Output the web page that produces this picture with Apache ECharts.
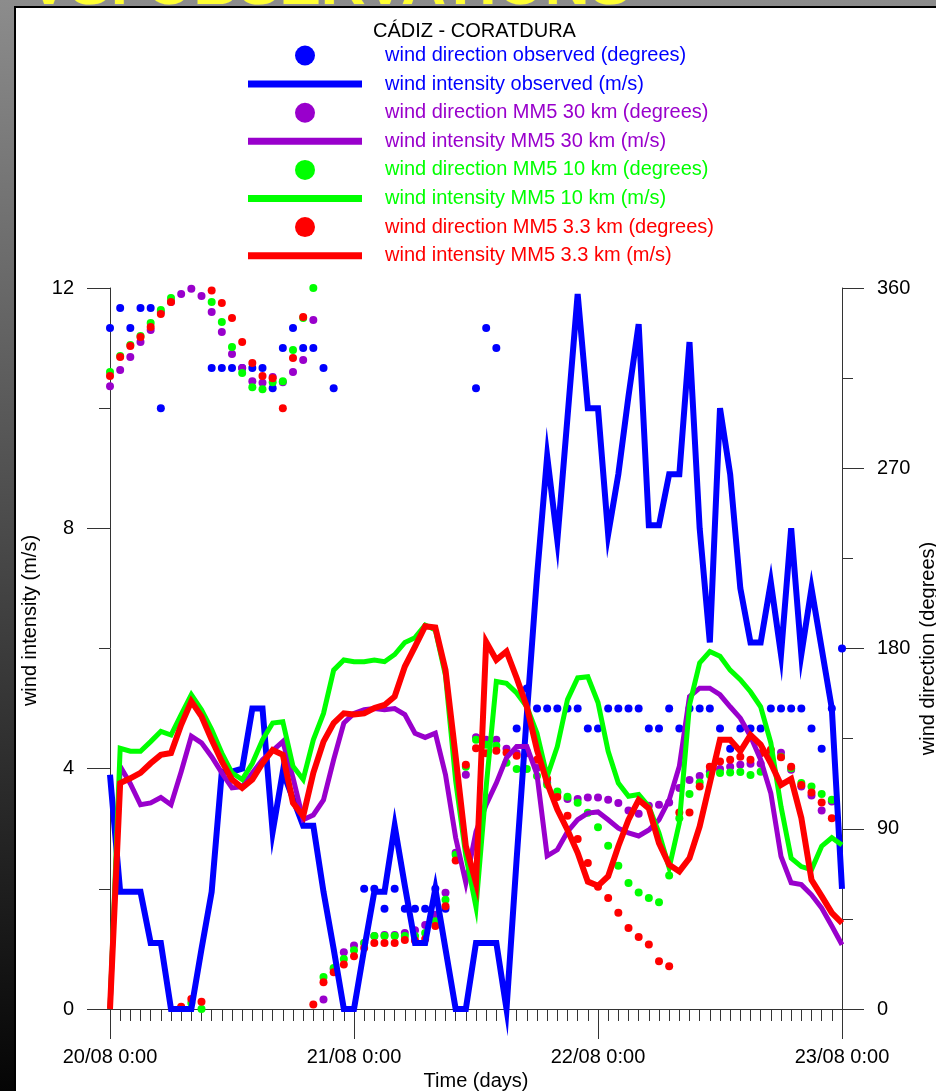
<!DOCTYPE html>
<html>
<head>
<meta charset="utf-8">
<script src="https://cdn.jsdelivr.net/npm/echarts@6/dist/echarts.min.js"></script>
<style>
  html, body { margin: 0; padding: 0; }
  #chart { width: 936px; height: 1091px; }
</style>
</head>
<body>
<div id="chart"></div>
<script>
// hourly values, index = hours since 20/08 0:00
var tickLabels = ['20/08 0:00', '21/08 0:00', '22/08 0:00', '23/08 0:00'];

var seriesNames = [
  'wind direction observed (degrees)',
  'wind intensity observed (m/s)',
  'wind direction MM5 30 km (degrees)',
  'wind intensity MM5 30 km (m/s)',
  'wind direction MM5 10 km (degrees)',
  'wind intensity MM5 10 km (m/s)',
  'wind direction MM5 3.3 km (degrees)',
  'wind intensity MM5 3.3 km (m/s)'
];
var colors = ['#0000ff', '#0000ff', '#9900cc', '#9900cc', '#00ff00', '#00ff00', '#ff0000', '#ff0000'];

// observed (m/s)
var obsSpeed = [3.9, 1.95, 1.95, 1.95, 1.1, 1.1, 0, 0, 0, 1.0, 1.95, 3.95, 3.95, 4.0, 5.0, 5.0, 2.95, 3.95, 3.5, 3.05,
  3.05, 1.95, 1.0, 0, 0, 1.0, 1.95, 1.95, 3.05, 2.05, 1.1, 1.1, 2.0, 1.0, 0, 0, 1.1, 1.1, 1.1, 0,
  2.5, 4.9, 7.2, 9.2, 7.8, 9.85, 11.9, 10.0, 10.0, 7.9, 8.9, 10.2, 11.4, 8.05, 8.05, 8.9, 8.9, 11.1, 8.0, 6.1,
  10.0, 8.9, 7.0, 6.1, 6.1, 7.1, 5.9, 8.0, 5.9, 7.0, 6.0, 5.0, 2.0];
// observed (degrees)
var obsDir = [340, 350, 340, 350, 350, 300, null, null, null, null, 320, 320, 320, 320, 320, 320, 310, 330, 340, 330,
  330, 320, 310, null, null, 60, 60, 50, 60, 50, 50, 50, 60, 50, null, null, 310, 340, 330, null,
  140, 160, 150, 150, 150, 150, 150, 140, 140, 150, 150, 150, 150, 140, 140, 150, 140, 150, 150, 150,
  140, 130, 140, 140, 140, 150, 150, 150, 150, 140, 130, 150, 180];

// MM5 30 km
var mm30Speed = [0, 4.04, 3.75, 3.4, 3.43, 3.52, 3.4, 3.95, 4.54, 4.43, 4.2, 3.93, 3.68, 3.7, 3.93, 4.15, 4.3, 4.45, 3.85, 3.15,
  3.23, 3.48, 4.15, 4.76, 4.92, 4.98, 5.0, 4.98, 5.0, 4.9, 4.59, 4.52, 4.59, 3.9, 2.85, 2.1, 2.95, 3.4, 3.76, 4.18,
  4.37, 4.37, 3.9, 2.55, 2.65, 2.95, 3.15, 3.26, 3.28, 3.15, 3.01, 2.93, 2.88, 2.98, 3.15, 3.48, 4.04, 5.2, 5.34, 5.34,
  5.23, 5.03, 4.84, 4.54, 4.15, 3.59, 2.54, 2.1, 2.07, 1.9, 1.68, 1.38, 1.07];
var mm30Dir = [311, 319, 325.5, 333, 339, 348, 353, 357, 359.6, 356, 348, 338, 327, 320, 313.5, 312.7, 315.5, 313, 318, 324,
  344, 4.7, 20, 28.3, 31.7, 33, 36.5, 37, 37, 38, 39.3, 42, 47, 58, 78, 117, 135.7, 134.4, 134.4, 130,
  127.7, 127.7, 120.3, 113, 108, 104.8, 104.8, 105.6, 105.6, 104.5, 102.8, 99.1, 97.5, 101.5, 102, 103.1, 110.3, 114.4, 116.4, 118.6,
  119.8, 121, 121.9, 122.4, 122.4, 126.9, 128, 119.4, 111.1, 106.6, 99.1, 103.6, null];

// MM5 10 km
var mm10Speed = [0, 4.34, 4.29, 4.29, 4.45, 4.62, 4.56, 4.9, 5.23, 4.98, 4.65, 4.26, 3.93, 3.82, 4.09, 4.48, 4.76, 4.78, 4.04, 3.82,
  4.48, 4.92, 5.64, 5.81, 5.78, 5.78, 5.81, 5.78, 5.9, 6.1, 6.18, 6.39, 6.31, 5.55, 3.8, 2.55, 1.7, 3.7, 5.45, 5.42,
  5.26, 5.03, 4.59, 3.87, 4.37, 5.15, 5.51, 5.53, 5.1, 4.29, 3.76, 3.54, 3.57, 3.37, 2.93, 2.35, 3.1, 5.06, 5.76, 5.95,
  5.87, 5.64, 5.48, 5.28, 5.03, 4.43, 3.37, 2.51, 2.37, 2.32, 2.71, 2.85, 2.73];
var mm10Dir = [318, 326, 331.5, 336, 342.5, 349, 355, 0.6, 3, 0, 353, 343, 330.5, 317.5, 310.5, 309.5, 313, 313.5, 329, 345,
  360, 16, 20.5, 25, 29.3, 33, 36.5, 36.5, 36.5, 36.5, 36.5, 38, 43.8, 54.6, 77, 121, 134.4, 131.9, 131.4, 123,
  119.8, 119.8, 116.4, 112, 108.6, 106, 103, 98, 90.8, 81.5, 71.5, 62.9, 58.2, 55.4, 53.3, 66.6, 95.3, 107.4, 113.1, 116.8,
  117.8, 118.1, 118.3, 116.8, 118.4, 126.9, 126, 120.2, 112.8, 111.1, 107.4, 104.5, null];

// MM5 3.3 km
var mm3Speed = [0, 3.76, 3.84, 3.93, 4.09, 4.23, 4.26, 4.73, 5.12, 4.87, 4.48, 4.12, 3.82, 3.68, 3.82, 4.09, 4.31, 4.23, 3.43, 3.21,
  3.93, 4.45, 4.76, 4.92, 4.9, 4.92, 5.01, 5.06, 5.2, 5.7, 6.03, 6.37, 6.35, 5.64, 4.2, 2.71, 2.1, 6.11, 5.81, 5.95,
  5.51, 5.03, 4.31, 3.76, 3.32, 2.98, 2.6, 2.12, 2.05, 2.21, 2.71, 3.15, 3.48, 3.34, 2.76, 2.4, 2.29, 2.51, 3.04, 3.76,
  4.48, 4.48, 4.29, 4.56, 4.4, 4.09, 3.73, 3.83, 3.18, 2.15, 1.88, 1.6, 1.43];
var mm3Dir = [316, 325.5, 331, 335.5, 340.5, 347, 353, 1.1, 5, 3.6, 358.7, 352.5, 345, 333, 322.5, 316, 315, 300, 325, 345.5,
  2.3, 13.4, 18.4, 22.2, 26.3, 30.5, 33, 33, 33, 34.5, 34.2, 35, 41.4, 51.3, 74.2, 122, 130.2, 127.7, 129, 128,
  126.4, 128.5, 124.4, 115, 105.8, 96.5, 84.9, 72.9, 61, 55.4, 48, 40.5, 36, 32.2, 23.8, 21.3, 98.1, 98.1, 111.1, 121,
  123.6, 124.4, 126, 124.4, 127.7, 129.4, 125.7, 121, 111.9, 108.1, 103.1, 95.3, null];

var font = 'Liberation Sans, Arial, sans-serif';
var axisColor = '#333';

function pairs(arr) {
  return arr.map(function (v, i) { return [i, v]; }).filter(function (d) { return d[1] !== null; });
}

function dirSeries(i, arr) {
  return {
    name: seriesNames[i], type: 'scatter', yAxisIndex: 1,
    symbol: 'circle', symbolSize: 8,
    itemStyle: { color: colors[i], opacity: 1 },
    data: pairs(arr)
  };
}

function speedSeries(i, arr, w) {
  return {
    name: seriesNames[i], type: 'line', yAxisIndex: 0,
    symbol: 'none', clip: false,
    lineStyle: { color: colors[i], width: w, join: 'miter' },
    itemStyle: { color: colors[i] },
    data: pairs(arr)
  };
}

var chart = echarts.init(document.getElementById('chart'));

chart.setOption({
  animation: false,
  backgroundColor: 'transparent',
  textStyle: { fontFamily: font },
  graphic: [
    {
      type: 'rect', z: -20, silent: true,
      shape: { x: 0, y: 0, width: 936, height: 1091 },
      style: {
        fill: new echarts.graphic.LinearGradient(0, 0, 0, 1, [
          { offset: 0, color: '#8c8c8c' },
          { offset: 1, color: '#050505' }
        ])
      }
    },
    {
      type: 'text', z: -15, silent: true, x: 28, y: 18,
      style: {
        text: 'VS. OBSERVATIONS', fill: '#ffff33', font: 'bold 62px ' + font,
        verticalAlign: 'bottom', stroke: '#999', lineWidth: 1
      }
    },
    {
      type: 'rect', z: -10, silent: true,
      shape: { x: 15, y: 7, width: 940, height: 1100 },
      style: { fill: '#ffffff', stroke: '#000', lineWidth: 2 }
    }
  ],
  title: {
    text: 'CÁDIZ - CORATDURA',
    left: 373, top: 21, padding: 0,
    textStyle: { fontSize: 20, fontWeight: 'normal', color: '#000', fontFamily: font }
  },
  legend: {
    orient: 'vertical', left: 248, top: 45.5, padding: 0,
    itemWidth: 114, itemHeight: 20, itemGap: 8.6,
    selectedMode: false,
    textStyle: { fontSize: 20, fontFamily: font, lineHeight: 20, padding: [0, 0, 0, 18] },
    data: seriesNames.map(function (n, i) {
      var item = { name: n, textStyle: { color: colors[i] }, itemStyle: { opacity: 1 } };
      if (i % 2 === 1) {
        item.icon = 'path://M0,0H114V7H0Z';
      }
      return item;
    })
  },
  grid: { left: 110, top: 288, width: 732, height: 721, outerBoundsMode: 'none' },
  xAxis: {
    type: 'value', min: 0, max: 72, interval: 24,
    name: 'Time (days)', nameLocation: 'middle', nameGap: 62, nameMoveOverlap: false,
    nameTextStyle: { fontSize: 20, color: '#000', fontFamily: font },
    axisLine: { show: true, onZero: false, lineStyle: { color: axisColor, width: 1 } },
    axisTick: { show: true, length: 30, lineStyle: { color: axisColor } },
    minorTick: { show: true, splitNumber: 24, length: 12, lineStyle: { color: axisColor } },
    splitLine: { show: false },
    axisLabel: {
      margin: 38, fontSize: 20, color: '#000', fontFamily: font,
      formatter: function (v) { return tickLabels[v / 24]; }
    }
  },
  yAxis: [
    {
      type: 'value', min: 0, max: 12, interval: 4, position: 'left',
      name: 'wind intensity (m/s)', nameLocation: 'middle', nameGap: 70, nameRotate: 90, nameMoveOverlap: false,
      nameTextStyle: { fontSize: 20, color: '#000', fontFamily: font, padding: [0, 0, 0, 56] },
      axisLine: { show: true, lineStyle: { color: axisColor, width: 1 } },
      axisTick: { show: true, length: 23, lineStyle: { color: axisColor } },
      minorTick: { show: true, splitNumber: 2, length: 11, lineStyle: { color: axisColor } },
      splitLine: { show: false },
      axisLabel: { margin: 36, fontSize: 20, color: '#000', fontFamily: font }
    },
    {
      type: 'value', min: 0, max: 360, interval: 90, position: 'right',
      name: 'wind direction (degrees)', nameLocation: 'middle', nameGap: 76, nameRotate: 90, nameMoveOverlap: false,
      nameTextStyle: { fontSize: 20, color: '#000', fontFamily: font },
      axisLine: { show: true, lineStyle: { color: axisColor, width: 1 } },
      axisTick: { show: true, length: 22, lineStyle: { color: axisColor } },
      minorTick: { show: true, splitNumber: 2, length: 11, lineStyle: { color: axisColor } },
      splitLine: { show: false },
      axisLabel: { margin: 35, fontSize: 20, color: '#000', fontFamily: font }
    }
  ],
  series: [
    dirSeries(0, obsDir),
    speedSeries(1, obsSpeed, 6),
    dirSeries(2, mm30Dir),
    speedSeries(3, mm30Speed, 5),
    dirSeries(4, mm10Dir),
    speedSeries(5, mm10Speed, 5),
    dirSeries(6, mm3Dir),
    speedSeries(7, mm3Speed, 6)
  ]
});
</script>
</body>
</html>
